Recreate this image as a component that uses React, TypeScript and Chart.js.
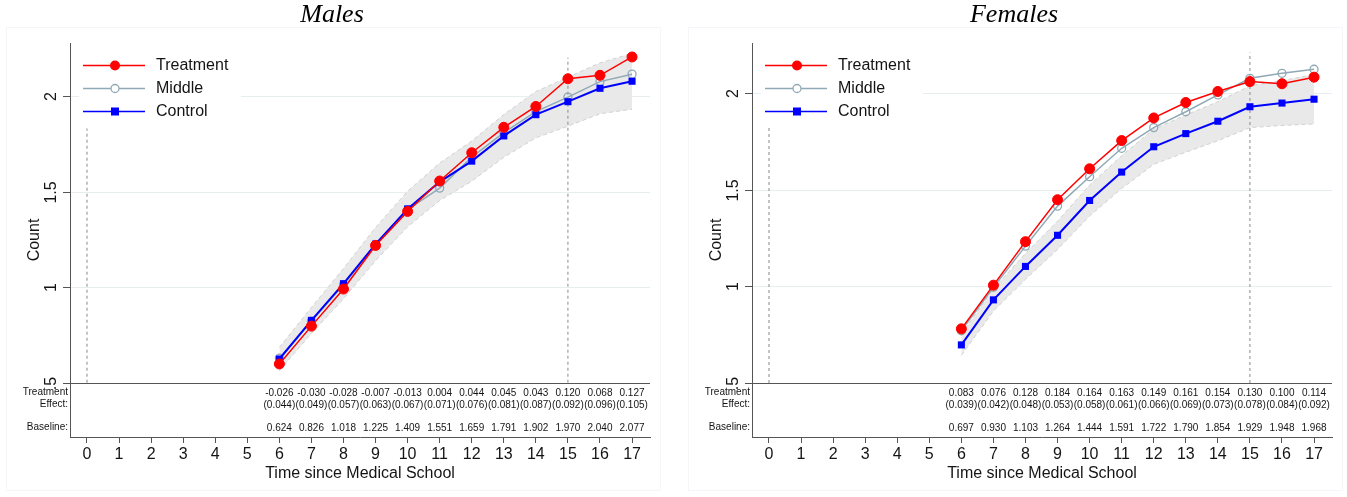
import React, { useEffect, useRef } from "react";
import { Chart, registerables } from "chart.js";

Chart.register(...registerables);

// ---------- data ----------
const years = [6, 7, 8, 9, 10, 11, 12, 13, 14, 15, 16, 17];
const xTickValues = [0, 1, 2, 3, 4, 5, 6, 7, 8, 9, 10, 11, 12, 13, 14, 15, 16, 17];
const yTickValues = [0.5, 1, 1.5, 2];
const yTickLabels = [".5", "1", "1.5", "2"];
const refLineX = [0, 15];
const refLineBottom = 0.5;

// Males
const maleEffect = [-0.026, -0.03, -0.028, -0.007, -0.013, 0.004, 0.044, 0.045, 0.043, 0.12, 0.068, 0.127];
const maleSE = [0.044, 0.049, 0.057, 0.063, 0.067, 0.071, 0.076, 0.081, 0.087, 0.092, 0.096, 0.105];
const maleBaseline = [0.624, 0.826, 1.018, 1.225, 1.409, 1.551, 1.659, 1.791, 1.902, 1.97, 2.04, 2.077];
const maleTreatment = [0.598, 0.796, 0.99, 1.218, 1.396, 1.555, 1.703, 1.836, 1.945, 2.09, 2.108, 2.204];
const maleMiddle = [0.628, 0.822, 1.012, 1.222, 1.405, 1.518, 1.68, 1.808, 1.918, 1.994, 2.075, 2.114];
const maleBandLow = [0.563, 0.758, 0.939, 1.138, 1.316, 1.453, 1.554, 1.679, 1.781, 1.842, 1.907, 1.931];
const maleBandHigh = [0.685, 0.894, 1.097, 1.312, 1.502, 1.649, 1.764, 1.903, 2.023, 2.098, 2.173, 2.223];
const maleRefTop = [1.83, 2.2];

// Females
const femaleEffect = [0.083, 0.076, 0.128, 0.184, 0.164, 0.163, 0.149, 0.161, 0.154, 0.13, 0.1, 0.114];
const femaleSE = [0.039, 0.042, 0.048, 0.053, 0.058, 0.061, 0.066, 0.069, 0.073, 0.078, 0.084, 0.092];
const femaleBaseline = [0.697, 0.93, 1.103, 1.264, 1.444, 1.591, 1.722, 1.79, 1.854, 1.929, 1.948, 1.968];
const femaleTreatment = [0.78, 1.006, 1.231, 1.448, 1.608, 1.754, 1.871, 1.951, 2.008, 2.059, 2.048, 2.082];
const femaleMiddle = [0.77, 0.995, 1.208, 1.415, 1.567, 1.714, 1.821, 1.903, 1.99, 2.076, 2.102, 2.123];
const femaleBandLow = [0.643, 0.872, 1.036, 1.191, 1.364, 1.506, 1.631, 1.694, 1.753, 1.821, 1.832, 1.84];
const femaleBandHigh = [0.751, 0.988, 1.17, 1.337, 1.524, 1.676, 1.813, 1.886, 1.955, 2.037, 2.064, 2.096];
const femaleRefTop = [1.83, 2.21];

const seriesNames = ["Treatment", "Middle", "Control"];

// ---------- styles ----------
const RED = "#ff0000";
const GRAY = "#8fa9b5";
const BLUE = "#0000ff";
const AXIS = "#555555";
const GRID = "#e6eef0";
const TEXT = "#141414";
const SANS = "'Liberation Sans', Arial, sans-serif";
const SERIF = "'Liberation Serif', 'Times New Roman', serif";

const W_LEFT = 672;
const W_RIGHT = 665;
const H = 497;

type PanelProps = {
  title: string;
  width: number;
  treatment: number[];
  middle: number[];
  control: number[];
  bandLow: number[];
  bandHigh: number[];
  effect: number[];
  se: number[];
  refTop: number[];
  yMin: number;
  yMax: number;
};

function pts(xs: number[], ys: number[]) {
  return xs.map((x, i) => ({ x, y: ys[i] }));
}

function Panel(props: PanelProps) {
  const ref = useRef<HTMLCanvasElement | null>(null);

  useEffect(() => {
    const canvas = ref.current;
    if (!canvas) return;

    const decor = {
      id: "panelDecor",
      beforeDraw(chart: any) {
        const ctx = chart.ctx;
        const { left, right } = chart.chartArea;
        const ys = chart.scales.y;
        ctx.save();
        ctx.fillStyle = "#ffffff";
        ctx.fillRect(0, 0, chart.width, chart.height);
        // very faint panel frame
        ctx.strokeStyle = "#f4f6f9";
        ctx.lineWidth = 1;
        ctx.strokeRect(6.5, 27.5, 654, 463);
        // grid lines
        yTickValues.forEach((v) => {
          const py = Math.round(ys.getPixelForValue(v)) + 0.5;
          ctx.strokeStyle = v === refLineBottom ? AXIS : GRID;
          ctx.lineWidth = 1;
          ctx.beginPath();
          ctx.moveTo(left, py);
          ctx.lineTo(right, py);
          ctx.stroke();
        });
        ctx.restore();
      },
      afterDraw(chart: any) {
        const ctx = chart.ctx;
        const { left, top, bottom } = chart.chartArea;
        const xs = chart.scales.x;
        const ys = chart.scales.y;
        ctx.save();

        // y tick marks + rotated labels
        ctx.strokeStyle = AXIS;
        ctx.lineWidth = 1;
        ctx.fillStyle = TEXT;
        ctx.font = `16px ${SANS}`;
        yTickValues.forEach((v, i) => {
          const py = Math.round(ys.getPixelForValue(v)) + 0.5;
          ctx.beginPath();
          ctx.moveTo(left - 7, py);
          ctx.lineTo(left, py);
          ctx.stroke();
          ctx.save();
          ctx.translate(left - 18, py);
          ctx.rotate(-Math.PI / 2);
          ctx.textAlign = "center";
          ctx.textBaseline = "middle";
          ctx.fillText(yTickLabels[i], 0, 0);
          ctx.restore();
        });

        // y title
        ctx.save();
        ctx.translate(35, (top + bottom) / 2);
        ctx.rotate(-Math.PI / 2);
        ctx.textAlign = "center";
        ctx.textBaseline = "middle";
        ctx.font = `16px ${SANS}`;
        ctx.fillText("Count", 0, 0);
        ctx.restore();

        // panel title
        ctx.font = `italic 26px ${SERIF}`;
        ctx.textAlign = "center";
        ctx.textBaseline = "middle";
        ctx.fillStyle = "#000";
        ctx.fillText(props.title, 332, 15);

        // legend
        ctx.fillStyle = "#ffffff";
        ctx.fillRect(left + 9, 52, 162, 70);
        const rows = [65.5, 88.5, 111.5];
        const colors = [RED, GRAY, BLUE];
        rows.forEach((ry, i) => {
          ctx.strokeStyle = colors[i];
          ctx.lineWidth = 1.5;
          ctx.beginPath();
          ctx.moveTo(left + 13, ry);
          ctx.lineTo(left + 75, ry);
          ctx.stroke();
          const mx = left + 45;
          if (i === 0) {
            ctx.fillStyle = RED;
            ctx.beginPath();
            ctx.arc(mx, ry, 5, 0, Math.PI * 2);
            ctx.fill();
          } else if (i === 1) {
            ctx.fillStyle = "#ffffff";
            ctx.strokeStyle = GRAY;
            ctx.lineWidth = 1.3;
            ctx.beginPath();
            ctx.arc(mx, ry, 4, 0, Math.PI * 2);
            ctx.fill();
            ctx.stroke();
          } else {
            ctx.fillStyle = BLUE;
            ctx.fillRect(mx - 4, ry - 4, 8, 8);
          }
          ctx.fillStyle = TEXT;
          ctx.font = `16px ${SANS}`;
          ctx.textAlign = "left";
          ctx.textBaseline = "middle";
          ctx.fillText(seriesNames[i], left + 86, ry);
        });

        // table
        ctx.font = `10px ${SANS}`;
        ctx.fillStyle = TEXT;
        ctx.textAlign = "right";
        ctx.textBaseline = "middle";
        ctx.fillText("Treatment", left - 2, 392.5);
        ctx.fillText("Effect:", left - 2, 404.5);
        ctx.fillText("Baseline:", left - 2, 427.5);
        ctx.textAlign = "center";
        years.forEach((yr, i) => {
          const px = xs.getPixelForValue(yr);
          ctx.fillText(props.effect[i].toFixed(3), px, 393);
          ctx.fillText(`(${props.se[i].toFixed(3)})`, px, 405);
          ctx.fillText(props.control[i].toFixed(3), px, 428);
        });

        ctx.restore();
      },
    };

    const refSets = refLineX.map((rx, i) => ({
      label: `ref${rx}`,
      data: [
        { x: rx, y: refLineBottom },
        { x: rx, y: props.refTop[i] },
      ],
      borderColor: "#8a8a8a",
      borderWidth: 1,
      borderDash: [3, 3],
      pointRadius: 0,
      fill: false,
    }));

    const chart = new Chart(canvas, {
      type: "line",
      data: {
        datasets: [
          {
            label: "Treatment",
            data: pts(years, props.treatment),
            borderColor: RED,
            backgroundColor: RED,
            borderWidth: 1.5,
            pointStyle: "circle",
            pointRadius: 5,
            pointBackgroundColor: RED,
            pointBorderColor: RED,
            pointBorderWidth: 1,
            fill: false,
          },
          {
            label: "Control",
            data: pts(years, props.control),
            borderColor: BLUE,
            backgroundColor: BLUE,
            borderWidth: 2,
            pointStyle: "rect",
            pointRadius: 5,
            pointBackgroundColor: BLUE,
            pointBorderColor: BLUE,
            pointBorderWidth: 0,
            fill: false,
          },
          {
            label: "Middle",
            data: pts(years, props.middle),
            borderColor: GRAY,
            backgroundColor: "rgba(0,0,0,0)",
            borderWidth: 1.5,
            pointStyle: "circle",
            pointRadius: 4,
            pointBackgroundColor: "rgba(0,0,0,0)",
            pointBorderColor: GRAY,
            pointBorderWidth: 1.3,
            fill: false,
          },
          ...refSets,
          {
            label: "bandHigh",
            data: pts(years, props.bandHigh),
            borderColor: "#d2d2d2",
            borderWidth: 1,
            borderDash: [4, 3],
            backgroundColor: "#e9e9e9",
            pointRadius: 0,
            fill: "+1",
          },
          {
            label: "bandLow",
            data: pts(years, props.bandLow),
            borderColor: "#d2d2d2",
            borderWidth: 1,
            borderDash: [4, 3],
            pointRadius: 0,
            fill: false,
          },
        ] as any,
      },
      options: {
        animation: false,
        responsive: false,
        maintainAspectRatio: false,
        devicePixelRatio: 1,
        events: [],
        layout: { padding: { top: 43, right: props.width - 650, left: 0, bottom: 0 } },
        plugins: {
          legend: { display: false },
          tooltip: { enabled: false },
          title: { display: false },
          filler: { drawTime: "beforeDatasetsDraw" },
        } as any,
        scales: {
          x: {
            type: "linear",
            min: -0.53,
            max: 17.56,
            afterBuildTicks: (s: any) => {
              s.ticks = xTickValues.map((v) => ({ value: v }));
            },
            afterFit: (s: any) => {
              s.height = 60;
            },
            ticks: {
              autoSkip: false,
              maxRotation: 0,
              minRotation: 0,
              padding: 2,
              color: TEXT,
              font: { family: SANS, size: 16 },
              callback: (v: any) => String(v),
            },
            grid: {
              drawOnChartArea: false,
              drawTicks: true,
              tickLength: 6,
              tickColor: AXIS,
              color: AXIS,
            },
            border: { display: true, color: AXIS, width: 1 },
            title: {
              display: true,
              text: "Time since Medical School",
              color: TEXT,
              font: { family: SANS, size: 16 },
              padding: { top: 0, bottom: 14 },
            },
          },
          y: {
            type: "linear",
            min: props.yMin,
            max: props.yMax,
            afterFit: (s: any) => {
              s.width = 70;
            },
            ticks: { display: false },
            grid: { display: false },
            border: { display: true, color: AXIS, width: 1 },
          },
        },
      } as any,
      plugins: [decor],
    });

    return () => {
      chart.destroy();
    };
  }, []);

  return (
    <canvas
      ref={ref}
      width={props.width}
      height={H}
      style={{ display: "block", width: props.width, height: H }}
    />
  );
}

export default function App() {
  useEffect(() => {
    document.body.style.margin = "0";
  }, []);
  return (
    <div style={{ position: "absolute", left: 0, top: 0, width: 1347, height: H, overflow: "hidden", background: "#fff" }}>
      <div style={{ position: "absolute", left: 0, top: 0 }}>
        <Panel
          title="Males"
          width={W_LEFT}
          treatment={maleTreatment}
          middle={maleMiddle}
          control={maleBaseline}
          bandLow={maleBandLow}
          bandHigh={maleBandHigh}
          effect={maleEffect}
          se={maleSE}
          refTop={maleRefTop}
          yMin={0.216}
          yMax={2.277}
        />
      </div>
      <div style={{ position: "absolute", left: 682, top: 0 }}>
        <Panel
          title="Females"
          width={W_RIGHT}
          treatment={femaleTreatment}
          middle={femaleMiddle}
          control={femaleBaseline}
          bandLow={femaleBandLow}
          bandHigh={femaleBandHigh}
          effect={femaleEffect}
          se={femaleSE}
          refTop={femaleRefTop}
          yMin={0.2206}
          yMax={2.2587}
        />
      </div>
    </div>
  );
}
